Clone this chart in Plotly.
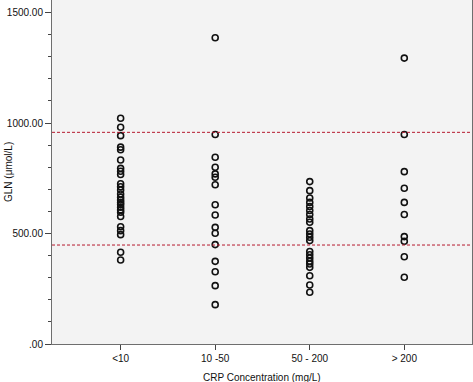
import plotly.graph_objects as go

categories = ["<10", "10 -50", "50 - 200", "> 200"]
gln_lt10 = [1022, 981, 943, 891, 879, 833, 795, 782, 767, 725, 712, 697, 679, 664,
            652, 641, 631, 619, 607, 596, 577, 531, 513, 495, 415, 380]
gln_10_50 = [1386, 948, 845, 800, 770, 755, 721, 630, 584, 528, 501, 450, 374, 327, 264, 178]
gln_50_200 = [735, 694, 661, 641, 622, 604, 586, 566, 551, 513, 498, 483, 468, 419,
              404, 389, 374, 362, 347, 309, 267, 234]
gln_gt200 = [1294, 948, 780, 705, 641, 586, 486, 465, 395, 302]
reference_lines = [958, 448]
y_tick_vals = [0, 500, 1000, 1500]
y_tick_text = [".00", "500.00", "1000.00", "1500.00"]

series = [gln_lt10, gln_10_50, gln_50_200, gln_gt200]
xs, ys = [], []
for cat, vals in zip(categories, series):
    xs += [cat] * len(vals)
    ys += vals

fig = go.Figure()
fig.add_trace(go.Scatter(
    x=xs, y=ys, mode="markers",
    marker=dict(symbol="circle-open", size=6, color="#111111", line=dict(width=1.6, color="#111111")),
    showlegend=False, hoverinfo="skip"))

for v in reference_lines:
    fig.add_shape(type="line", xref="paper", x0=0, x1=1, yref="y", y0=v, y1=v,
                  line=dict(color="#b5192e", width=1, dash="3px,2px"))

fig.update_layout(
    width=473, height=382,
    margin=dict(l=52, r=1, t=0, b=38),
    paper_bgcolor="white", plot_bgcolor="#f3f3f3",
    font=dict(family="Liberation Sans, Arial, sans-serif", size=10, color="#111111"),
    annotations=[
        dict(text="CRP Concentration (mg/L)", xref="paper", yref="paper", x=0.5, y=0,
             xanchor="center", yanchor="middle", yshift=-33, showarrow=False,
             font=dict(size=10)),
        dict(text="GLN (μmol/L)", xref="paper", yref="paper", x=0, y=0.5,
             xanchor="center", yanchor="middle", xshift=-44, textangle=-90,
             showarrow=False, font=dict(size=10)),
    ],
)
fig.update_xaxes(
    type="category", categoryorder="array", categoryarray=categories,
    range=[-0.726, 3.716], showgrid=False, zeroline=False, automargin=False,
    ticks="outside", ticklen=5, tickcolor="#444", tickwidth=1,
    showline=True, linecolor="#6e6e6e", linewidth=1, mirror=True,
    tickfont=dict(size=10),
)
fig.update_yaxes(
    range=[0, 1557], showgrid=False, zeroline=False, automargin=False,
    tickvals=y_tick_vals, ticktext=y_tick_text,
    ticks="outside", ticklen=6, tickcolor="#444", tickwidth=1,
    minor=dict(dtick=100, ticks="outside", ticklen=3, tickcolor="#444", tickwidth=1, showgrid=False),
    showline=True, linecolor="#6e6e6e", linewidth=1, mirror=True,
    tickfont=dict(size=10),
)

fig.write_html("out.html", config={"displayModeBar": False},
               post_script="document.body.style.margin='0';document.body.style.overflow='hidden';")
